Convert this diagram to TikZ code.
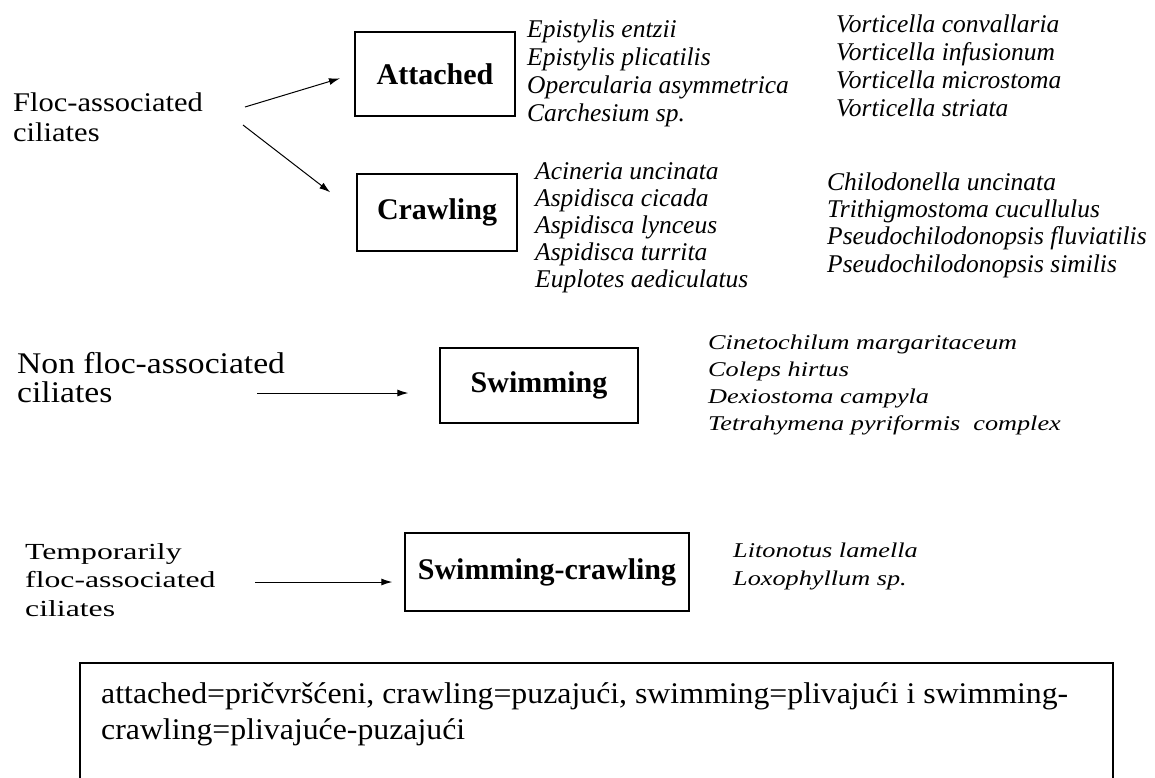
\documentclass[tikz,border=0pt]{standalone}
\usepackage{fontspec}
\setmainfont{Liberation Serif}
\usetikzlibrary{arrows.meta}
\tikzset{>={Latex[length=11pt,width=7pt]}}
\tikzset{
  typebox/.style={rectangle, draw, line width=1.3pt, font=\fontsize{30}{34}\selectfont\bfseries},
  species/.style={anchor=base west, inner sep=0pt, align=left, font=\fontsize{25.5}{28}\selectfont\itshape},
  group/.style={anchor=base west, inner sep=0pt, align=left}
}

\begin{document}
\begin{tikzpicture}[x=1pt, y=-1pt]
      \useasboundingbox (0,0) rectangle (1155,778);
      % groups of ciliates (placed at the baseline of their last line)
      \node[group, font=\fontsize{27}{30}\selectfont\addfontfeature{FakeStretch=1.13}] (floc) at (13,142) {Floc-associated\\ciliates};
      \node[group, font=\fontsize{30}{29}\selectfont\addfontfeature{FakeStretch=1.12}] (nonfloc) at (17,402) {Non floc-associated\\ciliates};
      \node[group, font=\fontsize{23}{28.5}\selectfont\addfontfeature{FakeStretch=1.38}] (tempfloc) at (25,616) {Temporarily\\floc-associated\\ciliates};
      % types
      \node[typebox, minimum width=160pt, minimum height=84pt] (attached) at (435,74) {Attached};
      \node[typebox, minimum width=160pt, minimum height=77pt] (crawling) at (437,212.5) {Crawling};
      \node[typebox, minimum width=198pt, minimum height=75pt] (swimming) at (539,385.5) {Swimming};
      \node[typebox, minimum width=284pt, minimum height=78pt] (swimcrawl) at (547,572) {Swimming-crawling};
      % species
      \node[species] (attlistA) at (527,122) {Epistylis entzii\\Epistylis plicatilis\\Opercularia asymmetrica\\Carchesium sp.};
      \node[species] (attlistB) at (836,117) {Vorticella convallaria\\Vorticella infusionum\\Vorticella microstoma\\Vorticella striata};
      \node[species, font=\fontsize{25.5}{26.8}\selectfont\itshape] (crawlistA) at (535,287) {Acineria uncinata\\Aspidisca cicada\\Aspidisca lynceus\\Aspidisca turrita\\Euplotes aediculatus};
      \node[species, font=\fontsize{25.5}{27.3}\selectfont\itshape] (crawlistB) at (827,272) {Chilodonella uncinata\\Trithigmostoma cucullulus\\Pseudochilodonopsis fluviatilis\\Pseudochilodonopsis similis};
      \node[species, font=\fontsize{21}{26.7}\selectfont\itshape\addfontfeature{FakeStretch=1.25}] (swimlist) at (708,430) {Cinetochilum margaritaceum\\Coleps hirtus\\Dexiostoma campyla\\Tetrahymena pyriformis\ \ complex};
      \node[species, font=\fontsize{21}{28}\selectfont\itshape\addfontfeature{FakeStretch=1.25}] (swcrlist) at (733,585) {Litonotus lamella\\Loxophyllum sp.};
      % arrows
      \coordinate (fa) at (245,107);
      \coordinate (fc) at (243,125);
      \coordinate (ns) at (257,393);
      \coordinate (ts) at (255,582);
      \draw[->, line width=1pt, shorten >=15pt] (fa) -- (attached.west);
      \draw[->, line width=1pt, shorten >=33pt] (fc) -- (crawling.west);
      \draw[->, line width=1pt, shorten >=31pt] (ns) -- (ns -| swimming.west);
      \draw[->, line width=1pt, shorten >=12pt] (ts) -- (ts -| swimcrawl.west);
      % translation box
      \draw[line width=1.5pt] (80,778) |- (1113,663) -- (1113,778);
      \node[group, font=\fontsize{30}{36}\selectfont\addfontfeature{FakeStretch=1.06}] (gloss) at (101,739) {attached=pričvršćeni, crawling=puzajući, swimming=plivajući i swimming-\\crawling=plivajuće-puzajući};
    \end{tikzpicture}
\end{document}
